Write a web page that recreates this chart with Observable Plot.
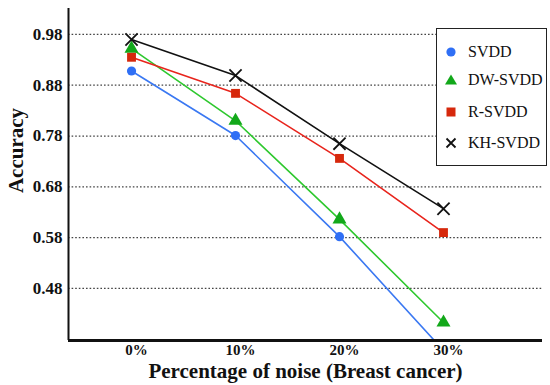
<!DOCTYPE html>
<html>
<head>
<meta charset="utf-8">
<script src="https://cdn.jsdelivr.net/npm/d3@7"></script>
<script src="https://cdn.jsdelivr.net/npm/@observablehq/plot@0.6"></script>
<style>
  html, body { margin: 0; padding: 0; background: #fff; }
  #wrap { position: relative; width: 550px; height: 385px; }
  #legend {
    position: absolute; left: 436px; top: 28px; width: 111px; height: 138px;
    border: 1.5px solid #222; background: #fff; box-sizing: border-box;
    font-family: "Liberation Serif", "Times New Roman", serif; font-size: 16px; color: #111;
  }
  .item { position: absolute; left: 6px; height: 20px; display: flex; align-items: center; }
  .item svg { width: 16px; height: 16px; margin-right: 9px; }
</style>
</head>
<body>
<div id="wrap"><div id="chart"></div><div id="legend"></div></div>
<script>
const noise = [0, 10, 20, 30];
const xTickLabels = ["0%", "10%", "20%", "30%"];
const yTicks = [0.48, 0.58, 0.68, 0.78, 0.88, 0.98];
const seriesNames = ["SVDD", "DW-SVDD", "R-SVDD", "KH-SVDD"];
const svdd   = [0.908, 0.781, 0.582, 0.358];
const dwSvdd = [0.952, 0.810, 0.616, 0.413];
const rSvdd  = [0.935, 0.864, 0.736, 0.590];
const khSvdd = [0.970, 0.899, 0.765, 0.637];
const xTitle = "Percentage of noise (Breast cancer)";
const yTitle = "Accuracy";

const values = [svdd, dwSvdd, rSvdd, khSvdd];
const lineColors = ["#3a78f2", "#2ec82e", "#e8241c", "#111111"];
const markColors = ["#2f6ff5", "#12a81a", "#d6280c", "#111111"];
const symbols = ["circle", "triangle", "square", "times"];
const radii = [4.6, 5.2, 5.0, 5.6];

const xDomain = [-6.06, 39.52];
const yDomain = [0.3776, 1.031];
const font = "Liberation Serif, Times New Roman, serif";

const seriesMarks = values.flatMap((vals, i) => {
  const rows = noise.map((n, j) => ({noise: n, acc: vals[j]}));
  return [
    Plot.line(rows, {x: "noise", y: "acc", stroke: lineColors[i], strokeWidth: 1.6, clip: true}),
    Plot.dot(rows, {x: "noise", y: "acc", symbol: symbols[i], r: radii[i],
      fill: symbols[i] === "times" ? "none" : markColors[i],
      stroke: symbols[i] === "times" ? markColors[i] : "none",
      strokeWidth: symbols[i] === "times" ? 1.8 : 0, clip: true})
  ];
});

const chart = Plot.plot({
  width: 550,
  height: 385,
  marginLeft: 68,
  marginRight: 8,
  marginTop: 8,
  marginBottom: 45,
  style: {fontFamily: font, background: "#fff", color: "#111"},
  x: {domain: xDomain},
  y: {domain: yDomain},
  marks: [
    Plot.gridY(yTicks, {stroke: "#444", strokeOpacity: 1, strokeWidth: 1.3, strokeDasharray: "1.6,2"}),
    Plot.axisY(yTicks, {tickFormat: d => d.toFixed(2), tickSize: 0, tickPadding: 6, fontSize: 17, fontWeight: "bold", label: null}),
    Plot.axisX(noise, {tickFormat: (d) => xTickLabels[noise.indexOf(d)], tickSize: 0, tickPadding: 4, dx: 5, fontSize: 15, fontWeight: "bold", label: null}),
    ...seriesMarks,
    Plot.ruleX([xDomain[0]], {stroke: "#111", strokeWidth: 2}),
    Plot.ruleY([yDomain[0]], {stroke: "#111", strokeWidth: 3}),
    Plot.text([yTitle], {frameAnchor: "left", textAnchor: "middle", rotate: -90, dx: -52, dy: -24, fontSize: 21, fontWeight: "bold", fill: "#111"}),
    Plot.text([xTitle], {frameAnchor: "bottom", dy: 37, fontSize: 21, fontWeight: "bold", fill: "#111"})
  ]
});
document.getElementById("chart").appendChild(chart);

// Legend
const legend = document.getElementById("legend");
const itemTops = [13, 41, 73, 104];
const symPaths = {
  circle: (c) => `<circle cx="8" cy="8" r="4.6" fill="${c}"/>`,
  triangle: (c) => `<path d="M8,2.5 L14,12.5 L2,12.5 Z" fill="${c}"/>`,
  square: (c) => `<rect x="3.5" y="3.5" width="9" height="9" fill="${c}"/>`,
  times: (c) => `<path d="M3.5,3.5 L12.5,12.5 M12.5,3.5 L3.5,12.5" stroke="${c}" stroke-width="1.8"/>`
};
seriesNames.forEach((name, i) => {
  const div = document.createElement("div");
  div.className = "item";
  div.style.top = itemTops[i] + "px";
  div.innerHTML = `<svg viewBox="0 0 16 16">${symPaths[symbols[i]](markColors[i])}</svg><span>${name}</span>`;
  legend.appendChild(div);
});
</script>
</body>
</html>
